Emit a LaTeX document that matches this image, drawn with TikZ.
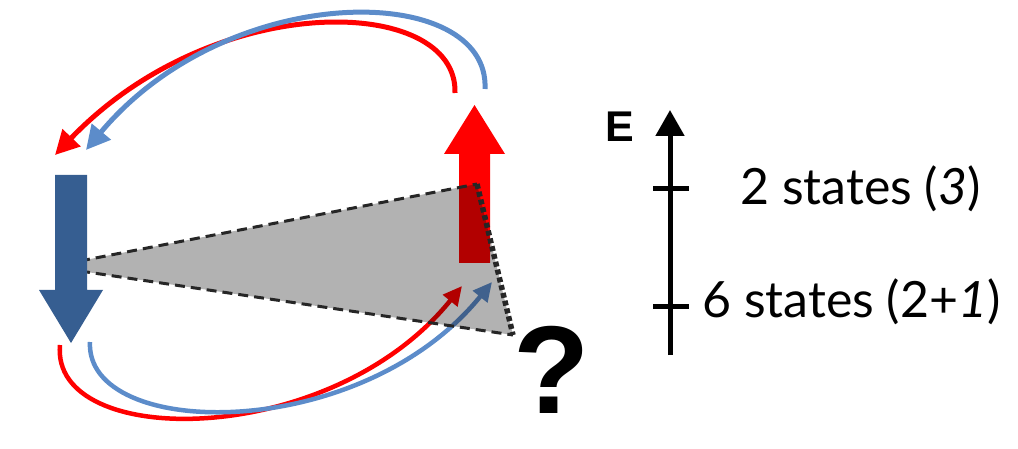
\documentclass[tikz,border=0pt]{standalone}
\usepackage{fontspec}
\setmainfont{Lato}
\newfontfamily\gruesa{Liberation Sans}
\usetikzlibrary{arrows.meta}
\definecolor{rojo}{RGB}{255,0,0}
\definecolor{azulclaro}{RGB}{92,140,202}
\definecolor{azulosc}{RGB}{54,94,145}

\begin{document}
\begin{tikzpicture}[x=1pt,y=-1pt,
  arco/.style={line width=5pt,-{Triangle[length=24pt,width=24pt]}},
  arcoinf/.style={line width=4.5pt,-{Triangle[length=19pt,width=18pt]}},
  borde/.style={dash pattern=on 10pt off 6pt,line width=3pt,black!85},
  bordeder/.style={dash pattern=on 5pt off 3pt,line width=5.5pt,black!85},
  eje/.style={line width=5pt,black},
  nivel/.style={anchor=base west,font=\fontsize{50}{60}\selectfont,inner sep=0pt}
]
\useasboundingbox (0,0) rectangle (1018,449);

% puntos del diagrama
\coordinate (rs) at (455,93);  \coordinate (re) at (55,155);
\coordinate (bs) at (485,89);  \coordinate (be) at (86,150);
\coordinate (ris) at (60,345); \coordinate (rie) at (462,286);
\coordinate (bis) at (90,342); \coordinate (bie) at (492,282);
\coordinate (ta) at (80,261);  \coordinate (tb) at (477,184);
\coordinate (tc) at (513,335); \coordinate (td) at (80,271);

% arcos superiores
\draw[arco,rojo] (rs) .. controls (458,-5) and (215,-12) .. (re);
\draw[arco,azulclaro] (bs) .. controls (490,-18) and (230,-22) .. (be);
% arcos inferiores
\draw[arcoinf,rojo] (ris) .. controls (50,450) and (330,450) .. (rie);
\draw[arcoinf,azulclaro] (bis) .. controls (85,440) and (360,445) .. (bie);

% flecha roja (espin arriba)
\fill[rojo] (459,263) -- (490,263) -- (490,154) -- (505,154) -- (474.5,105)
  -- (444,154) -- (459,154) -- cycle;

% triangulo frustrado
\fill[black,fill opacity=0.3] (ta) -- (tb) -- (tc) -- (td) -- cycle;
\draw[borde] (ta) -- (tb);
\draw[borde] (td) -- (tc);
\draw[bordeder] (tb) -- (tc);

% flecha azul (espin abajo)
\fill[azulosc] (55,175) -- (87,175) -- (87,290) -- (103,290) -- (71,343)
  -- (39,290) -- (55,290) -- cycle;

\node[font=\gruesa\bfseries\fontsize{125}{130}\selectfont,anchor=base,inner sep=0pt]
  (preg) at (551.5,413) {?};

% eje de energia
\coordinate (e0) at (670,355);
\coordinate (e1) at (670,110);
\coordinate (n1) at (670,189);
\coordinate (n2) at (670,307);
\draw[eje,-{Triangle[length=26pt,width=28pt]}] (e0) -- (e1);
\draw[eje] ([xshift=-17pt]n1) -- ([xshift=19pt]n1);
\draw[eje] ([xshift=-17pt]n2) -- ([xshift=19pt]n2);
\node[font=\gruesa\bfseries\fontsize{43}{50}\selectfont,anchor=base west,inner sep=0pt]
  (E) at (605,142) {E};
\node[nivel] (l1) at (740,205) {2 states (\textit{3})};
\node[nivel] (l2) at (702,317) {6 states (2+\textit{1})};
\end{tikzpicture}
\end{document}
